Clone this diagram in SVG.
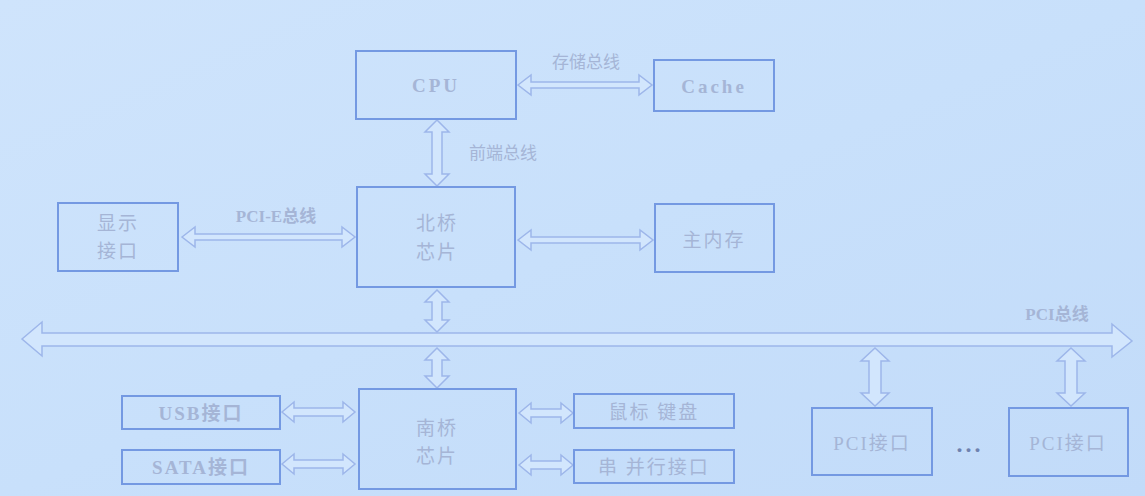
<svg xmlns="http://www.w3.org/2000/svg" width="1145" height="496" viewBox="0 0 1145 496">
<defs>
<linearGradient id="bg" x1="0" y1="0" x2="1" y2="1">
<stop offset="0" stop-color="#cfe4fc"/>
<stop offset="0.5" stop-color="#c8e0fb"/>
<stop offset="1" stop-color="#c2dbf9"/>
</linearGradient>
<style>
.box{fill:none;stroke:#7499e2;stroke-width:2}
.arr{fill:#d2e6fd;stroke:#9db6ea;stroke-width:1.5;stroke-linejoin:miter}
.t{font-family:"Liberation Serif","Noto Sans CJK SC",serif;fill:#a5b5d6;text-anchor:middle;dominant-baseline:central}
.lat{font-size:19px;letter-spacing:3px;font-weight:bold}
.cn{font-size:19px;letter-spacing:2px}
.lb{font-size:17px}
.b{font-weight:bold}
</style>
</defs>
<rect width="1145" height="496" fill="url(#bg)"/>
<g id="connectors">
<polygon class="arr" points="518,85 531,75 531,82 639,82 639,75 652,85 639,95 639,88 531,88 531,95"/>
<polygon class="arr" points="437,120 449,132 442,132 442,174 449,174 437,186 425,174 432,174 432,132 425,132"/>
<polygon class="arr" points="182,237 195,227 195,234 342,234 342,227 355,237 342,247 342,240 195,240 195,247"/>
<polygon class="arr" points="518,240 531,230 531,237 640,237 640,230 653,240 640,250 640,243 531,243 531,250"/>
<polygon class="arr" points="437,290 449,302 442,302 442,320 449,320 437,332 425,320 432,320 432,302 425,302"/>
<polygon class="arr" points="22,339 42,322 42,333 1112,333 1112,324 1132,341 1112,357 1112,346 42,346 42,356"/>
<polygon class="arr" points="437,348 449,360 442,360 442,376 449,376 437,388 425,376 432,376 432,360 425,360"/>
<polygon class="arr" points="282,412 294,402 294,408 343,408 343,402 355,412 343,422 343,416 294,416 294,422"/>
<polygon class="arr" points="282,464 294,454 294,460 343,460 343,454 355,464 343,474 343,468 294,468 294,474"/>
<polygon class="arr" points="519,413 531,403 531,409 561,409 561,403 573,413 561,423 561,417 531,417 531,423"/>
<polygon class="arr" points="519,465 531,455 531,461 561,461 561,455 573,465 561,475 561,469 531,469 531,475"/>
<polygon class="arr" points="875,348 889,361 881,361 881,393 889,393 875,406 861,393 869,393 869,361 861,361"/>
<polygon class="arr" points="1071,348 1085,361 1077,361 1077,393 1085,393 1071,406 1057,393 1065,393 1065,361 1057,361"/>
<text class="t lb" x="586" y="62">存储总线</text>
<text class="t lb" x="503" y="153">前端总线</text>
<text class="t lb b" x="276" y="216">PCI-E总线</text>
<text class="t lb b" x="1057" y="314">PCI总线</text>
</g>
<g id="cpu"><rect class="box" x="356" y="51" width="160" height="68"/><text class="t lat" x="436" y="85">CPU</text></g>
<g id="cache"><rect class="box" x="654" y="60" width="120" height="51"/><text class="t lat" x="714" y="86">Cache</text></g>
<g id="northbridge"><rect class="box" x="357" y="187" width="158" height="100"/><text class="t cn" x="437" y="223">北桥</text><text class="t cn" x="437" y="252">芯片</text></g>
<g id="display"><rect class="box" x="58" y="203" width="120" height="68"/><text class="t cn" x="118" y="223">显示</text><text class="t cn" x="118" y="251">接口</text></g>
<g id="memory"><rect class="box" x="655" y="204" width="119" height="68"/><text class="t cn" x="714" y="240">主内存</text></g>
<g id="southbridge"><rect class="box" x="359" y="389" width="157" height="100"/><text class="t cn" x="437" y="428">南桥</text><text class="t cn" x="437" y="456">芯片</text></g>
<g id="usb"><rect class="box" x="122" y="396" width="158" height="33"/><text class="t cn b" x="201" y="413">USB接口</text></g>
<g id="sata"><rect class="box" x="122" y="450" width="158" height="34"/><text class="t cn b" x="201" y="467">SATA接口</text></g>
<g id="mouse"><rect class="box" x="574" y="394" width="160" height="34"/><text class="t cn" x="654" y="412">鼠标 键盘</text></g>
<g id="serial"><rect class="box" x="574" y="450" width="160" height="33"/><text class="t cn" x="654" y="467">串 并行接口</text></g>
<g id="pci1"><rect class="box" x="812" y="408" width="120" height="67"/><text class="t cn" x="872" y="443">PCI接口</text></g>
<g id="dots"><text class="t" x="970" y="444" style="font-size:24px;fill:#6f82b0;letter-spacing:3px;font-weight:bold">...</text></g>
<g id="pci2"><rect class="box" x="1009" y="408" width="119" height="68"/><text class="t cn" x="1068" y="443">PCI接口</text></g>
</svg>
